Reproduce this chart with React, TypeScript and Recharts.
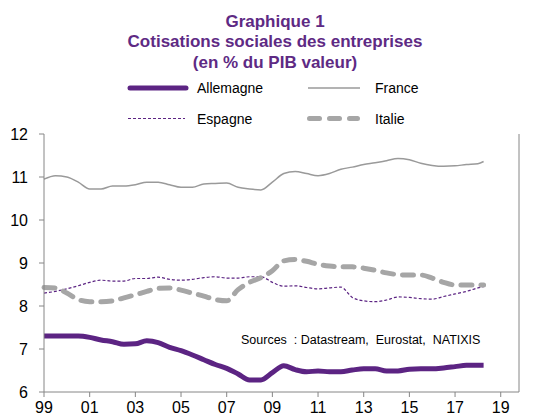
import { LineChart, Line, XAxis, YAxis } from "recharts";

// half-year points
const years = [
  1999, 1999.5, 2000, 2000.5, 2001, 2001.5, 2002, 2002.5, 2003, 2003.5,
  2004, 2004.5, 2005, 2005.5, 2006, 2006.5, 2007, 2007.5, 2008, 2008.5,
  2009, 2009.5, 2010, 2010.5, 2011, 2011.5, 2012, 2012.5, 2013, 2013.5,
  2014, 2014.5, 2015, 2015.5, 2016, 2016.5, 2017, 2017.5, 2018, 2018.25,
];

const allemagne = [
  7.3, 7.3, 7.3, 7.3, 7.27, 7.21, 7.17, 7.11, 7.12, 7.19,
  7.15, 7.04, 6.96, 6.86, 6.75, 6.64, 6.55, 6.42, 6.28, 6.28,
  6.45, 6.61, 6.52, 6.47, 6.49, 6.47, 6.47, 6.51, 6.54, 6.54,
  6.49, 6.49, 6.53, 6.54, 6.54, 6.56, 6.59, 6.62, 6.62, 6.62,
];

const france = [
  10.95, 11.03, 11.0, 10.88, 10.72, 10.72, 10.79, 10.79, 10.82, 10.88,
  10.88, 10.82, 10.76, 10.76, 10.84, 10.85, 10.86, 10.76, 10.72, 10.7,
  10.88, 11.08, 11.13, 11.08, 11.03, 11.08, 11.18, 11.23, 11.29, 11.33,
  11.38, 11.43, 11.4, 11.32, 11.27, 11.25, 11.26, 11.29, 11.31, 11.36,
];

const espagne = [
  8.3, 8.34, 8.4, 8.47, 8.55, 8.6, 8.58, 8.58, 8.64, 8.64,
  8.67, 8.62, 8.6, 8.62, 8.66, 8.68, 8.65, 8.65, 8.68, 8.68,
  8.55, 8.46, 8.47, 8.43, 8.4, 8.42, 8.44, 8.2, 8.12, 8.1,
  8.14, 8.21, 8.2, 8.17, 8.16, 8.22, 8.28, 8.34, 8.42, 8.45,
];

const italie = [
  8.43, 8.42, 8.3, 8.15, 8.1, 8.1, 8.12, 8.19, 8.26, 8.34,
  8.41, 8.42, 8.37, 8.3, 8.23, 8.15, 8.12, 8.38, 8.55, 8.66,
  8.82, 9.05, 9.08, 9.04, 8.97, 8.93, 8.91, 8.91, 8.88, 8.83,
  8.77, 8.73, 8.72, 8.72, 8.65, 8.55, 8.49, 8.49, 8.49, 8.49,
];

const xTicks = [1999, 2001, 2003, 2005, 2007, 2009, 2011, 2013, 2015, 2017, 2019];
const yTicks = [6, 7, 8, 9, 10, 11, 12];

const data = years.map((t, i) => ({
  t,
  allemagne: allemagne[i],
  france: france[i],
  espagne: espagne[i],
  italie: italie[i],
}));

const FONT = '"Liberation Sans", Arial, sans-serif';
const PURPLE = "#5c2483";
const TITLE = "#5e2a84";
const GRAY = "#9a9a9a";
const ITALY = "#a6a6a6";
const AXIS = "#868686";

export default function App() {
  const fmtYear = (v: number) => String(v % 100).padStart(2, "0");
  const tick = { fontSize: 16, fill: "#000", fontFamily: FONT };

  return (
    <div style={{ position: "absolute", left: 0, top: 0, width: 553, height: 418, background: "#fff" }}>
      <LineChart
        width={553}
        height={418}
        data={data}
        margin={{ top: 134, right: 0, bottom: 0, left: 0 }}
      >
        <XAxis
          dataKey="t"
          type="number"
          domain={[1999, 2019.8]}
          ticks={xTicks}
          interval={0}
          tickFormatter={fmtYear}
          height={26}
          tickSize={5}
          tickMargin={5}
          stroke={AXIS}
          tick={tick}
        />
        <YAxis
          yAxisId="left"
          domain={[6, 12]}
          ticks={yTicks}
          width={44}
          tickSize={5}
          tickMargin={11}
          stroke={AXIS}
          tick={tick}
        />
        <YAxis
          yAxisId="right"
          orientation="right"
          domain={[6, 12]}
          ticks={yTicks}
          width={34}
          tickSize={5}
          tickMargin={4}
          stroke={AXIS}
          tick={tick}
        />
        <Line yAxisId="left" type="monotone" dataKey="france" stroke={GRAY} strokeWidth={1.5} dot={false} isAnimationActive={false} />
        <Line yAxisId="left" type="monotone" dataKey="espagne" stroke={PURPLE} strokeWidth={1.2} strokeDasharray="3 2" dot={false} isAnimationActive={false} />
        <Line yAxisId="left" type="monotone" dataKey="italie" stroke={ITALY} strokeWidth={5} strokeDasharray="11 9" strokeLinecap="round" dot={false} isAnimationActive={false} />
        <Line yAxisId="left" type="monotone" dataKey="allemagne" stroke={PURPLE} strokeWidth={5} strokeLinejoin="round" dot={false} isAnimationActive={false} />
      </LineChart>

      <svg width={553} height={418} style={{ position: "absolute", left: 0, top: 0, pointerEvents: "none" }}>
        <g fontFamily={FONT} fontWeight="bold" fontSize={17} fill={TITLE} textAnchor="middle">
          <text x={275} y={27}>Graphique 1</text>
          <text x={275} y={47}>Cotisations sociales des entreprises</text>
          <text x={275} y={68}>(en % du PIB valeur)</text>
        </g>

        <g fontFamily={FONT} fontSize={14} fill="#000">
          <line x1={130} x2={186} y1={88} y2={88} stroke={PURPLE} strokeWidth={5} strokeLinecap="round" />
          <text x={197} y={93}>Allemagne</text>
          <line x1={308} x2={360} y1={88} y2={88} stroke={GRAY} strokeWidth={1.5} />
          <text x={375} y={93}>France</text>
          <line x1={128} x2={185} y1={118.5} y2={118.5} stroke={PURPLE} strokeWidth={1.2} strokeDasharray="3 2" />
          <text x={197} y={124}>Espagne</text>
          <line x1={309.5} x2={357.5} y1={118.5} y2={118.5} stroke={ITALY} strokeWidth={5} strokeDasharray="10 10" strokeLinecap="round" />
          <text x={375} y={124}>Italie</text>
        </g>

        <text x={241} y={344} fontFamily={FONT} fontSize={12.5} fill="#000" style={{ whiteSpace: "pre" }}>
          {"Sources  : Datastream,  Eurostat,  NATIXIS"}
        </text>
      </svg>
    </div>
  );
}
